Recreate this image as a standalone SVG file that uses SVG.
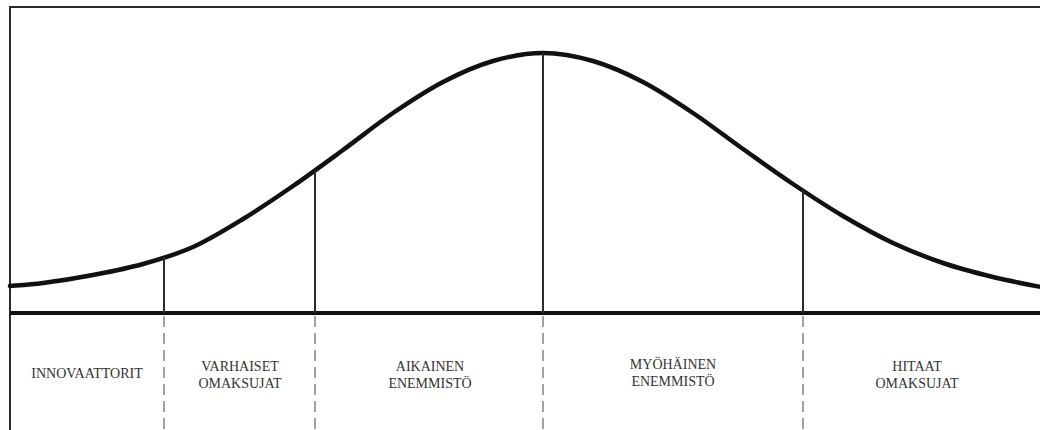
<svg xmlns="http://www.w3.org/2000/svg" width="1040" height="430" viewBox="0 0 1040 430">
<style>
.frame{stroke:#2b2b2b;stroke-width:2;fill:none}
.axis{stroke:#111;stroke-width:4;fill:none}
.curve{stroke:#111;stroke-width:4.5;fill:none;stroke-linecap:round}
.div{stroke:#2b2b2b;stroke-width:2;fill:none}
.dash{stroke:#8a8a8a;stroke-width:1.6;stroke-dasharray:11 6;fill:none}
.lbl{font-family:"Liberation Serif","Times New Roman",serif;font-size:14px;fill:#333;text-anchor:middle}
</style>
<rect width="1040" height="430" fill="#ffffff"/>
<g id="frame">
<path class="frame" d="M10,431 V7 H1041"/>
</g>
<g id="connectors">
<path id="curve" class="curve" d="M10,286 C15.5,285.5 29.2,284.8 43,283 C56.8,281.2 76.3,278.2 93,275 C109.7,271.8 126.3,268.7 143,264 C159.7,259.3 176.3,254.5 193,247 C209.7,239.5 226.3,229.2 243,219 C259.7,208.8 276.3,197.5 293,186 C309.7,174.5 326.3,162.2 343,150 C359.7,137.8 376.3,124.3 393,113 C409.7,101.7 426.3,90.7 443,82 C459.7,73.3 476.3,65.8 493,61 C509.7,56.2 526.3,53 543,53 C559.7,53 576.3,56.2 593,61 C609.7,65.8 626.3,73.3 643,82 C659.7,90.7 676.3,101.8 693,113 C709.7,124.2 726.3,137.2 743,149 C759.7,160.8 776.3,172.8 793,184 C809.7,195.2 826.3,206.2 843,216 C859.7,225.8 876.3,235.2 893,243 C909.7,250.8 926.3,257.3 943,263 C959.7,268.7 976.8,273 993,277 C1009.2,281 1032.2,285.3 1041,287"/>
<line class="axis" x1="10" y1="313" x2="1041" y2="313"/>
<line class="div" x1="164" y1="257" x2="164" y2="313"/>
<line class="div" x1="315" y1="170" x2="315" y2="313"/>
<line class="div" x1="543" y1="53" x2="543" y2="313"/>
<line class="div" x1="803" y1="190" x2="803" y2="313"/>
<line class="dash" x1="164" y1="316" x2="164" y2="431"/>
<line class="dash" x1="315" y1="316" x2="315" y2="431"/>
<line class="dash" x1="543" y1="316" x2="543" y2="431"/>
<line class="dash" x1="803" y1="316" x2="803" y2="431"/>
</g>
<g id="innovaattorit">
<text class="lbl" x="87" y="378">INNOVAATTORIT</text>
</g>
<g id="varhaiset">
<text class="lbl" x="240" y="371">VARHAISET</text>
<text class="lbl" x="240" y="388">OMAKSUJAT</text>
</g>
<g id="aikainen">
<text class="lbl" x="430" y="371">AIKAINEN</text>
<text class="lbl" x="430" y="388">ENEMMISTÖ</text>
</g>
<g id="myohainen">
<text class="lbl" x="673" y="369">MYÖHÄINEN</text>
<text class="lbl" x="673" y="386">ENEMMISTÖ</text>
</g>
<g id="hitaat">
<text class="lbl" x="917" y="371">HITAAT</text>
<text class="lbl" x="917" y="388">OMAKSUJAT</text>
</g>
</svg>
